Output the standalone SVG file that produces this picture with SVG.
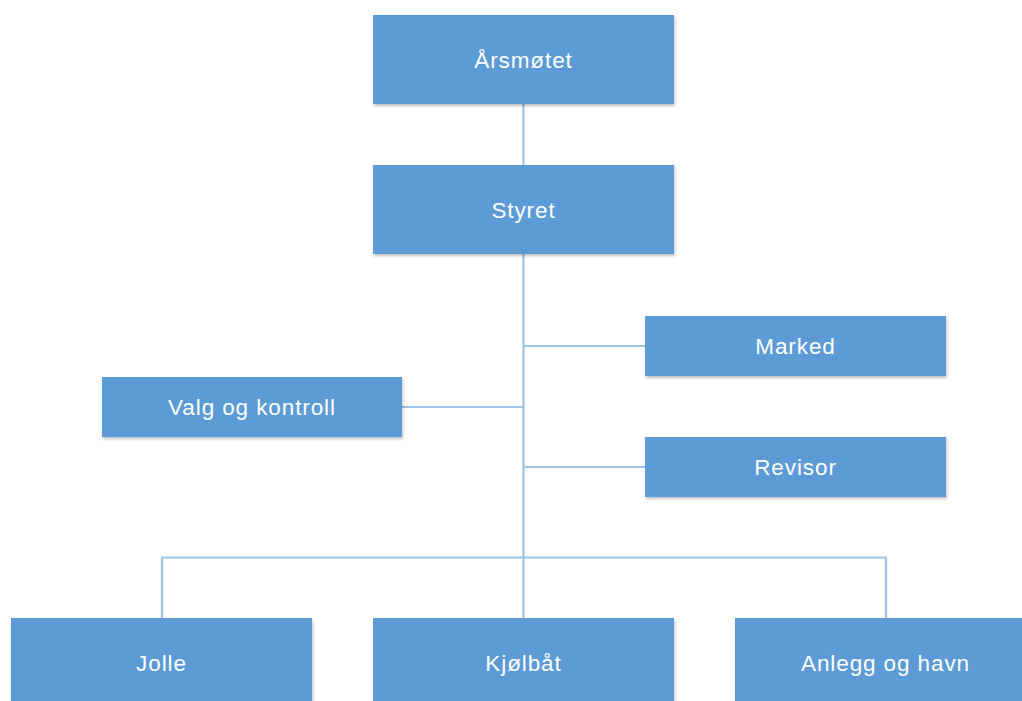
<svg xmlns="http://www.w3.org/2000/svg" width="1022" height="701" viewBox="0 0 1022 701">
<defs>
<filter id="sh" x="-5%" y="-10%" width="110%" height="130%">
<feDropShadow dx="1" dy="2" stdDeviation="1.5" flood-color="#000" flood-opacity="0.25"/>
</filter>
<style>
.box{fill:#5B9BD5;filter:url(#sh)}
.lbl{fill:#FFFFFF;font-family:"Liberation Sans",Arial,sans-serif;font-size:22.5px;letter-spacing:0.9px;text-anchor:middle}
.ln{stroke:#9DC3E6;stroke-width:2.2;fill:none}
</style>
</defs>
<rect width="1022" height="701" fill="#FFFFFF"/>
<g id="connectors">
<line class="ln" x1="523.5" y1="104" x2="523.5" y2="165"/>
<line class="ln" x1="523.5" y1="254" x2="523.5" y2="618"/>
<line class="ln" x1="523.5" y1="346" x2="645" y2="346"/>
<line class="ln" x1="402" y1="407" x2="523.5" y2="407"/>
<line class="ln" x1="523.5" y1="467" x2="645" y2="467"/>
<polyline class="ln" points="162,618 162,557.5 886,557.5 886,618" stroke="#8EB4E3"/>
</g>
<g id="arsmotet"><rect class="box" x="373" y="15" width="301" height="89"/><text class="lbl" x="523.5" y="67.5">Årsmøtet</text></g>
<g id="styret"><rect class="box" x="373" y="165" width="301" height="89"/><text class="lbl" x="523.5" y="217.5">Styret</text></g>
<g id="marked"><rect class="box" x="645" y="316" width="301" height="60"/><text class="lbl" x="795.5" y="354">Marked</text></g>
<g id="valg"><rect class="box" x="102" y="377" width="300" height="60"/><text class="lbl" x="252" y="415">Valg og kontroll</text></g>
<g id="revisor"><rect class="box" x="645" y="437" width="301" height="60"/><text class="lbl" x="795.5" y="475">Revisor</text></g>
<g id="jolle"><rect class="box" x="11" y="618" width="301" height="100"/><text class="lbl" x="161.5" y="671">Jolle</text></g>
<g id="kjolbat"><rect class="box" x="373" y="618" width="301" height="100"/><text class="lbl" x="523.5" y="671">Kjølbåt</text></g>
<g id="anlegg"><rect class="box" x="735" y="618" width="301" height="100"/><text class="lbl" x="885.5" y="671">Anlegg og havn</text></g>
</svg>
